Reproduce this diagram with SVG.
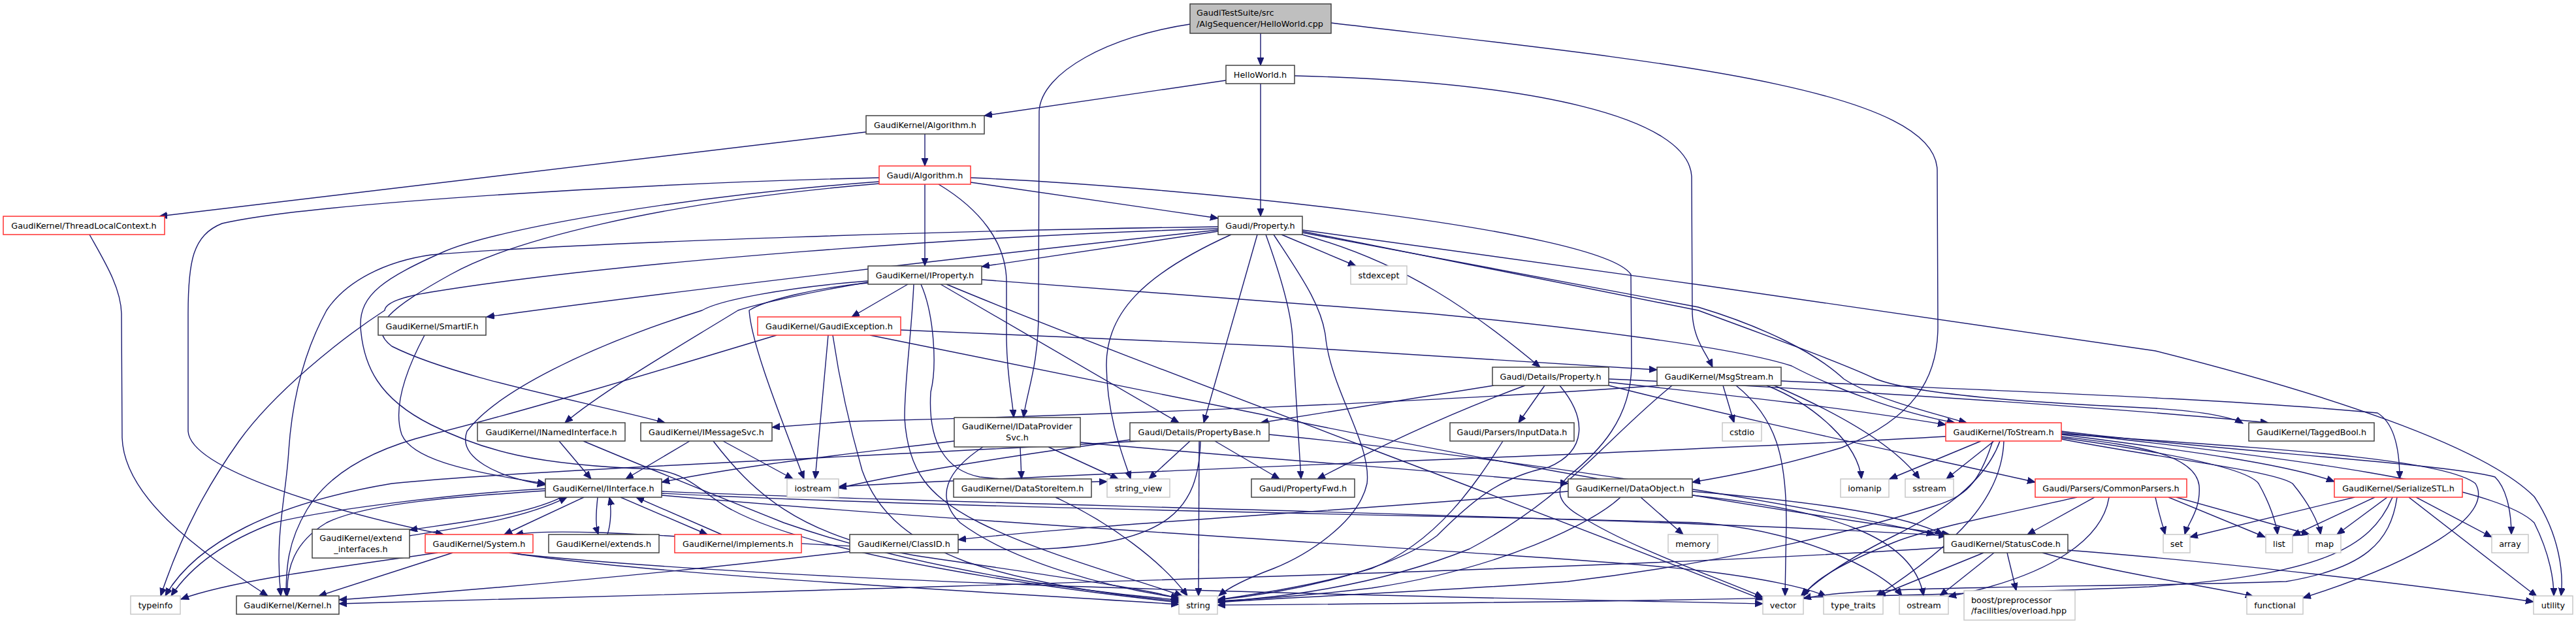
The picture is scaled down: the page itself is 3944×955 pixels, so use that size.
<svg xmlns="http://www.w3.org/2000/svg" width="3944" height="955" viewBox="0 0 3944 955">
<style>
.e path{fill:none;stroke:#191970;stroke-width:1.4;marker-end:url(#ah)}
.n rect{fill:#ffffff;stroke:#404040;stroke-width:1.5}
.n.root rect{fill:#bfbfbf}
.n.red rect{stroke:#ff3030}
.n.sys rect{stroke:#c8c8c8}
.n text{font-family:"DejaVu Sans","Liberation Sans",sans-serif;font-size:12.8px;fill:#000;text-anchor:middle}
.n text.l{text-anchor:start}
</style>
<defs>
<marker id="ah" markerUnits="userSpaceOnUse" markerWidth="14" markerHeight="12" refX="12" refY="5" orient="auto"><path d="M0,0 L12,5 L0,10 z" fill="#191970" stroke="#191970" stroke-width="1"/></marker>
</defs>
<rect width="3944" height="955" fill="#ffffff"/>
<g id="edges" class="e">
<path d="M1930,51 L1930,100"/>
<path d="M1822,37 C1700,55 1594,110 1591,170 L1590,480 C1590,560 1572,600 1567,639"/>
<path d="M2038,35 C2500,90 2962,130 2966,260 L2967,500 C2967,580 2930,640 2820,685 C2720,715 2650,728 2591,738"/>
<path d="M1877,123 L1507,177"/>
<path d="M1930,128 L1930,331"/>
<path d="M1982,116 C2350,125 2585,180 2590,270 L2591,480 C2593,520 2612,540 2622,562"/>
<path d="M1416,205 L1416,254"/>
<path d="M1326,202 L244,331"/>
<path d="M1416,282 L1416,407"/>
<path d="M1486,279 L1865,334"/>
<path d="M1437,282 C1500,320 1540,370 1541,430 L1541,520 C1542,580 1550,610 1552,639"/>
<path d="M1346,272 C1000,280 480,310 340,342 C295,360 288,400 288,480 L288,660 C292,720 520,785 679,818"/>
<path d="M1346,278 C1050,300 760,350 680,385 C590,425 550,450 552,500 C556,560 580,610 660,650 C740,690 820,712 1000,718 C1060,725 1080,760 1120,780 C1250,850 1600,900 1805,922"/>
<path d="M1346,281 C1000,310 780,370 690,420 C600,470 560,500 600,530 C700,580 900,615 1018,647"/>
<path d="M1486,272 C1800,285 2450,350 2497,420 L2498,560 C2497,640 2450,690 2400,730 C2380,750 2385,770 2420,790 C2500,840 2620,880 2699,914"/>
<path d="M137,359 C160,400 185,440 186,480 L187,670 C190,760 300,840 410,912"/>
<path d="M1865,354 L1503,408"/>
<path d="M1962,359 L2076,407"/>
<path d="M1865,352 C1500,390 1000,450 745,485"/>
<path d="M1865,347 C1500,352 900,370 660,390 C590,400 530,430 500,475 C470,530 448,600 442,690 C438,760 420,820 430,912"/>
<path d="M1865,350 C1500,360 950,400 660,447 C610,455 590,465 589,475 C520,520 420,600 366,675 C320,740 280,810 246,912"/>
<path d="M1885,359 C1750,420 1693,480 1694,560 C1695,640 1720,700 1731,733"/>
<path d="M1925,359 L1843,647"/>
<path d="M1938,359 C1960,420 1978,480 1979,520 L1992,733"/>
<path d="M1950,359 C1990,420 2026,470 2030,520 C2040,600 2100,680 2093,740 C2080,800 2000,850 1950,870 C1910,885 1880,900 1866,912"/>
<path d="M1990,358 C2150,400 2260,480 2358,562"/>
<path d="M1994,356 L2600,470 C2700,500 2780,540 2823,580 C2870,610 2950,630 3011,647"/>
<path d="M1994,354 L2600,475 C2750,530 2830,560 2872,580 C2950,610 3200,620 3300,625 C3380,630 3420,640 3434,648"/>
<path d="M1994,352 L2610,437 L3300,537 C3550,600 3800,680 3880,760 C3920,820 3925,880 3921,912"/>
<path d="M1390,435 L1304,485"/>
<path d="M1399,435 C1395,520 1385,580 1385,640 C1390,720 1420,760 1500,800 C1600,850 1750,890 1810,912"/>
<path d="M1410,435 C1430,480 1435,560 1425,600 C1420,680 1450,720 1500,730 C1600,740 1660,738 1695,737"/>
<path d="M1440,435 L1805,647"/>
<path d="M1449,435 C1700,540 2300,760 2700,918"/>
<path d="M1329,430 C1200,440 1100,460 1075,475 C900,530 760,600 715,660 C700,700 760,730 835,742"/>
<path d="M1329,432 C1250,445 1160,465 1130,475 C1040,530 920,600 865,647"/>
<path d="M1329,433 C1250,440 1170,460 1147,475 C1150,520 1180,600 1231,733"/>
<path d="M1503,428 L2190,480 C2400,500 2650,530 2743,560 C2800,590 2900,630 2993,647"/>
<path d="M650,513 C625,560 600,620 615,665 C630,700 700,720 835,740"/>
<path d="M1189,513 C1000,570 800,630 660,665 C560,690 500,730 470,780 C440,830 438,870 438,912"/>
<path d="M1268,513 L1248,733"/>
<path d="M1275,513 C1285,580 1300,650 1320,720 C1345,790 1400,830 1480,860 C1600,900 1750,915 1805,920"/>
<path d="M1379,505 L1960,530 L2537,566"/>
<path d="M1332,513 L1960,640 C2300,710 2700,780 2985,818"/>
<path d="M856,675 L905,733"/>
<path d="M893,675 C1000,720 1100,760 1200,800 C1400,870 1650,905 1805,918"/>
<path d="M1056,675 L958,733"/>
<path d="M1107,675 L1214,733"/>
<path d="M1092,675 C1150,750 1220,820 1400,850 C1600,880 1750,900 1805,916"/>
<path d="M894,761 L772,818"/>
<path d="M915,761 C912,790 912,805 916,818"/>
<path d="M930,818 C936,800 936,775 933,761"/>
<path d="M950,761 L1083,818"/>
<path d="M1105,818 L974,761"/>
<path d="M860,761 C800,790 700,800 627,811"/>
<path d="M627,820 C700,808 800,795 868,761"/>
<path d="M835,751 C700,760 560,770 500,800 C450,830 438,870 440,912"/>
<path d="M835,748 C700,755 500,780 420,800 C340,830 290,870 262,912"/>
<path d="M1013,752 C1400,770 2500,790 2980,820"/>
<path d="M1013,755 C1500,780 2300,790 2600,800 C2750,810 2880,870 2912,912"/>
<path d="M1013,758 C1600,810 2400,850 2600,873 C2700,885 2770,900 2796,913"/>
<path d="M670,846 C500,870 350,890 277,917"/>
<path d="M693,846 L488,912"/>
<path d="M780,846 C1000,880 1500,905 1805,925"/>
<path d="M793,848 C1300,900 2300,915 2699,924"/>
<path d="M1302,844 C1000,880 700,905 519,918"/>
<path d="M2976,838 C2500,870 1500,895 1200,905 C800,915 600,922 519,924"/>
<path d="M2401,752 C2100,780 1700,800 1467,826"/>
<path d="M2512,761 L2577,818"/>
<path d="M2591,752 C2800,770 2920,790 2975,818"/>
<path d="M2481,761 C2440,800 2300,870 2100,900 C2000,912 1900,918 1864,920"/>
<path d="M2591,758 C2800,780 2930,820 2945,912"/>
<path d="M1654,677 C1900,700 2200,720 2401,740"/>
<path d="M1562,684 L1564,733"/>
<path d="M1605,684 L1712,733"/>
<path d="M1505,684 C1450,720 1430,760 1470,800 C1550,860 1700,900 1805,915"/>
<path d="M1461,675 C1300,695 1150,710 1013,738"/>
<path d="M1616,761 C1700,800 1780,860 1818,912"/>
<path d="M1822,675 L1759,733"/>
<path d="M1836,675 L1835,912"/>
<path d="M1860,675 L1959,733"/>
<path d="M1746,675 C1300,700 800,720 600,740 C420,770 300,830 253,912"/>
<path d="M1838,675 C1835,780 1790,830 1600,840 C1300,850 900,800 789,818"/>
<path d="M1746,671 C1600,690 1400,720 1284,747"/>
<path d="M1943,665 C2300,700 2700,760 2962,818"/>
<path d="M2365,590 L2325,647"/>
<path d="M2335,590 C2200,640 2100,690 2017,733"/>
<path d="M2463,585 C2600,600 2800,620 2979,650"/>
<path d="M2463,590 C2700,650 2950,700 3116,738"/>
<path d="M2388,590 C2430,640 2430,690 2371,715 C2300,730 2260,760 2200,820 C2120,880 1950,910 1864,918"/>
<path d="M2287,590 L1930,647"/>
<path d="M2463,580 C2900,600 3300,630 3473,647"/>
<path d="M2301,675 C2260,740 2200,830 2100,870 C2000,900 1900,912 1864,918"/>
<path d="M2540,590 C2200,615 1700,635 1300,645 L1182,654"/>
<path d="M2638,590 L2655,647"/>
<path d="M2658,590 C2720,640 2735,700 2735,800 L2733,912"/>
<path d="M2705,590 C2780,620 2845,680 2850,733"/>
<path d="M2712,588 C2810,630 2900,680 2939,733"/>
<path d="M2727,583 C3100,600 3400,610 3640,632 C3670,650 3674,700 3674,733"/>
<path d="M2560,590 C2450,680 2400,760 2250,840 C2100,900 1950,915 1864,921"/>
<path d="M3033,675 L2893,733"/>
<path d="M3053,675 L2980,733"/>
<path d="M3062,675 C3046,720 3002,770 2900,820 C2820,860 2780,890 2757,913"/>
<path d="M3068,675 C3065,760 3000,830 2872,913"/>
<path d="M3156,665 C3350,690 3500,710 3574,737"/>
<path d="M3156,668 C3250,680 3360,690 3367,743 C3370,780 3350,800 3345,818"/>
<path d="M3156,670 C3300,690 3440,715 3458,740 C3475,770 3485,800 3487,818"/>
<path d="M3156,672 C3300,700 3480,720 3510,740 C3535,770 3550,800 3553,818"/>
<path d="M3156,660 C3400,690 3750,710 3820,730 C3840,750 3845,790 3845,818"/>
<path d="M3156,662 C3500,700 3820,740 3880,800 C3905,850 3910,890 3910,912"/>
<path d="M3156,664 C3450,685 3740,700 3790,740 C3820,790 3700,860 3526,915"/>
<path d="M2979,668 C2600,690 2000,710 1700,725 C1500,735 1350,740 1284,745"/>
<path d="M3051,675 C3030,740 3010,760 2960,775 C2850,810 2650,860 2400,890 C2200,905 1950,915 1864,922"/>
<path d="M3207,761 L3104,818"/>
<path d="M3180,761 C3050,790 2950,810 2900,830 C2800,870 2770,895 2761,913"/>
<path d="M3229,761 C3220,820 3150,880 2983,913"/>
<path d="M3332,761 L3536,818"/>
<path d="M3300,761 C3305,785 3310,800 3315,818"/>
<path d="M3320,761 L3468,822"/>
<path d="M3073,846 L3087,904"/>
<path d="M3053,846 L2970,912"/>
<path d="M3037,846 L2875,912"/>
<path d="M3127,846 C3250,880 3400,900 3450,913"/>
<path d="M3166,842 C3400,860 3700,895 3879,921"/>
<path d="M3605,761 L3353,822"/>
<path d="M3636,761 L3510,820"/>
<path d="M3655,761 L3578,818"/>
<path d="M3699,761 L3815,822"/>
<path d="M3688,761 L3884,913"/>
<path d="M3670,761 C3660,830 3620,870 3500,890 C3200,900 2850,895 2761,916"/>
<path d="M3663,761 C3630,840 3550,880 3290,898 C2800,920 2000,925 1864,926"/>
</g>
<g id="n_cpp" class="n root"><rect x="1822" y="6" width="216" height="45"/><text class="l" x="1832" y="24">GaudiTestSuite/src</text><text class="l" x="1832" y="41">/AlgSequencer/HelloWorld.cpp</text></g>
<g id="n_helloworld_h" class="n"><rect x="1877" y="100" width="105" height="28"/><text x="1929.5" y="118.5">HelloWorld.h</text></g>
<g id="n_gk_algorithm" class="n"><rect x="1326" y="177" width="181" height="28"/><text x="1416.5" y="195.5">GaudiKernel/Algorithm.h</text></g>
<g id="n_gaudi_algorithm" class="n red"><rect x="1346" y="254" width="140" height="28"/><text x="1416" y="272.5">Gaudi/Algorithm.h</text></g>
<g id="n_property" class="n"><rect x="1865" y="331" width="129" height="28"/><text x="1929.5" y="349.5">Gaudi/Property.h</text></g>
<g id="n_threadlocal" class="n red"><rect x="5" y="331" width="247" height="28"/><text x="128.5" y="349.5">GaudiKernel/ThreadLocalContext.h</text></g>
<g id="n_iproperty" class="n"><rect x="1329" y="407" width="174" height="28"/><text x="1416" y="425.5">GaudiKernel/IProperty.h</text></g>
<g id="n_stdexcept" class="n sys"><rect x="2068" y="407" width="86" height="28"/><text x="2111" y="425.5">stdexcept</text></g>
<g id="n_smartif" class="n"><rect x="579" y="485" width="165" height="28"/><text x="661.5" y="503.5">GaudiKernel/SmartIF.h</text></g>
<g id="n_gaudiexception" class="n red"><rect x="1160" y="485" width="219" height="28"/><text x="1269.5" y="503.5">GaudiKernel/GaudiException.h</text></g>
<g id="n_details_property" class="n"><rect x="2285" y="562" width="178" height="28"/><text x="2374" y="580.5">Gaudi/Details/Property.h</text></g>
<g id="n_msgstream" class="n"><rect x="2537" y="562" width="190" height="28"/><text x="2632" y="580.5">GaudiKernel/MsgStream.h</text></g>
<g id="n_inamedinterface" class="n"><rect x="731" y="647" width="226" height="28"/><text x="844" y="665.5">GaudiKernel/INamedInterface.h</text></g>
<g id="n_imessagesvc" class="n"><rect x="981" y="647" width="201" height="28"/><text x="1081.5" y="665.5">GaudiKernel/IMessageSvc.h</text></g>
<g id="n_idataprovidersvc" class="n"><rect x="1461" y="639" width="193" height="45"/><text x="1557.5" y="656.5">GaudiKernel/IDataProvider</text><text x="1557.5" y="673.5">Svc.h</text></g>
<g id="n_propertybase" class="n"><rect x="1730" y="647" width="213" height="28"/><text x="1836.5" y="665.5">Gaudi/Details/PropertyBase.h</text></g>
<g id="n_inputdata" class="n"><rect x="2220" y="647" width="190" height="28"/><text x="2315" y="665.5">Gaudi/Parsers/InputData.h</text></g>
<g id="n_cstdio" class="n sys"><rect x="2637" y="647" width="60" height="28"/><text x="2667" y="665.5">cstdio</text></g>
<g id="n_tostream" class="n red"><rect x="2979" y="647" width="177" height="28"/><text x="3067.5" y="665.5">GaudiKernel/ToStream.h</text></g>
<g id="n_taggedbool" class="n"><rect x="3443" y="647" width="192" height="28"/><text x="3539" y="665.5">GaudiKernel/TaggedBool.h</text></g>
<g id="n_iinterface" class="n"><rect x="835" y="733" width="178" height="28"/><text x="924" y="751.5">GaudiKernel/IInterface.h</text></g>
<g id="n_iostream" class="n sys"><rect x="1205" y="733" width="79" height="28"/><text x="1244.5" y="751.5">iostream</text></g>
<g id="n_datastoreitem" class="n"><rect x="1460" y="733" width="211" height="28"/><text x="1565.5" y="751.5">GaudiKernel/DataStoreItem.h</text></g>
<g id="n_string_view" class="n sys"><rect x="1695" y="733" width="96" height="28"/><text x="1743" y="751.5">string_view</text></g>
<g id="n_propertyfwd" class="n"><rect x="1916" y="733" width="158" height="28"/><text x="1995" y="751.5">Gaudi/PropertyFwd.h</text></g>
<g id="n_dataobject" class="n"><rect x="2401" y="733" width="190" height="28"/><text x="2496" y="751.5">GaudiKernel/DataObject.h</text></g>
<g id="n_iomanip" class="n sys"><rect x="2818" y="733" width="74" height="28"/><text x="2855" y="751.5">iomanip</text></g>
<g id="n_sstream" class="n sys"><rect x="2917" y="733" width="74" height="28"/><text x="2954" y="751.5">sstream</text></g>
<g id="n_commonparsers" class="n red"><rect x="3116" y="733" width="232" height="28"/><text x="3232" y="751.5">Gaudi/Parsers/CommonParsers.h</text></g>
<g id="n_serializestl" class="n red"><rect x="3574" y="733" width="196" height="28"/><text x="3672" y="751.5">GaudiKernel/SerializeSTL.h</text></g>
<g id="n_extend_interfaces" class="n"><rect x="478" y="810" width="149" height="44"/><text x="552.5" y="827.5">GaudiKernel/extend</text><text x="552.5" y="844.5">_interfaces.h</text></g>
<g id="n_system" class="n red"><rect x="651" y="818" width="165" height="28"/><text x="733.5" y="836.5">GaudiKernel/System.h</text></g>
<g id="n_extends" class="n"><rect x="840" y="818" width="169" height="28"/><text x="924.5" y="836.5">GaudiKernel/extends.h</text></g>
<g id="n_implements" class="n red"><rect x="1033" y="818" width="194" height="28"/><text x="1130" y="836.5">GaudiKernel/implements.h</text></g>
<g id="n_classid" class="n"><rect x="1301" y="818" width="166" height="28"/><text x="1384" y="836.5">GaudiKernel/ClassID.h</text></g>
<g id="n_memory" class="n sys"><rect x="2554" y="818" width="76" height="28"/><text x="2592" y="836.5">memory</text></g>
<g id="n_statuscode" class="n"><rect x="2976" y="818" width="190" height="28"/><text x="3071" y="836.5">GaudiKernel/StatusCode.h</text></g>
<g id="n_set" class="n sys"><rect x="3312" y="818" width="41" height="28"/><text x="3332.5" y="836.5">set</text></g>
<g id="n_list" class="n sys"><rect x="3469" y="818" width="41" height="28"/><text x="3489.5" y="836.5">list</text></g>
<g id="n_map" class="n sys"><rect x="3534" y="818" width="50" height="28"/><text x="3559" y="836.5">map</text></g>
<g id="n_array" class="n sys"><rect x="3815" y="818" width="56" height="28"/><text x="3843" y="836.5">array</text></g>
<g id="n_typeinfo" class="n sys"><rect x="200" y="912" width="76" height="28"/><text x="238" y="930.5">typeinfo</text></g>
<g id="n_kernel" class="n"><rect x="362" y="912" width="157" height="28"/><text x="440.5" y="930.5">GaudiKernel/Kernel.h</text></g>
<g id="n_string" class="n sys"><rect x="1805" y="912" width="59" height="28"/><text x="1834.5" y="930.5">string</text></g>
<g id="n_vector" class="n sys"><rect x="2699" y="912" width="62" height="28"/><text x="2730" y="930.5">vector</text></g>
<g id="n_type_traits" class="n sys"><rect x="2792" y="912" width="91" height="28"/><text x="2837.5" y="930.5">type_traits</text></g>
<g id="n_ostream" class="n sys"><rect x="2908" y="912" width="75" height="28"/><text x="2945.5" y="930.5">ostream</text></g>
<g id="n_boost_overload" class="n sys"><rect x="3007" y="904" width="170" height="45"/><text class="l" x="3018" y="922.5">boost/preprocessor</text><text class="l" x="3018" y="938.5">/facilities/overload.hpp</text></g>
<g id="n_functional" class="n sys"><rect x="3440" y="912" width="86" height="28"/><text x="3483" y="930.5">functional</text></g>
<g id="n_utility" class="n sys"><rect x="3879" y="912" width="60" height="28"/><text x="3909" y="930.5">utility</text></g>
</svg>
